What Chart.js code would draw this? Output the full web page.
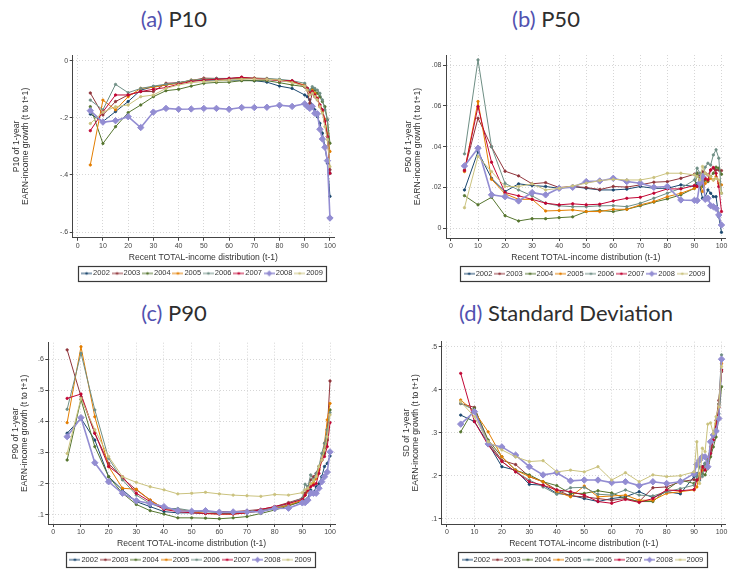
<!DOCTYPE html>
<html><head><meta charset="utf-8">
<script src="https://cdn.jsdelivr.net/npm/chart.js@4.4.1/dist/chart.umd.min.js"></script>
<style>
html,body{margin:0;padding:0;background:#fff;overflow:hidden;}
body{width:730px;height:572px;position:relative;}
canvas{position:absolute;}
.ttl{position:absolute;font-family:Lato,'Open Sans',sans-serif;font-weight:400;font-size:22px;line-height:22px;color:#2e2e2e;text-align:center;white-space:nowrap;}
.ttl .lab{color:#5252b0;}
</style></head><body>
<div class="ttl" style="left:74px;top:8px;width:200px"><span class="lab">(a)</span> P10</div>
<div class="ttl" style="left:446px;top:8px;width:200px"><span class="lab">(b)</span> P50</div>
<div class="ttl" style="left:74px;top:302px;width:200px"><span class="lab">(c)</span> P90</div>
<div class="ttl" style="left:416px;top:302px;width:300px"><span class="lab">(d)</span> Standard Deviation</div>
<canvas id="cA" width="365" height="250" style="left:0px;top:40px"></canvas>
<canvas id="cB" width="365" height="250" style="left:365px;top:40px"></canvas>
<canvas id="cC" width="365" height="246" style="left:0px;top:330px"></canvas>
<canvas id="cD" width="365" height="246" style="left:365px;top:330px"></canvas>
<script>
const years = ['2002','2003','2004','2005','2006','2007','2008','2009'];
const xPct = [5,10,15,20,25,30,35,40,45,50,55,60,65,70,75,80,85,90,91,92,93,94,95,96,97,98,99,100];
const xTicks = [0,10,20,30,40,50,60,70,80,90,100];

const p10_2002 = [-0.187,-0.213,-0.178,-0.143,-0.103,-0.091,-0.085,-0.077,-0.07,-0.068,-0.068,-0.068,-0.068,-0.07,-0.075,-0.089,-0.097,-0.12,-0.126,-0.137,-0.155,-0.172,-0.196,-0.219,-0.254,-0.3,-0.359,-0.475];
const p10_2003 = [-0.113,-0.19,-0.143,-0.12,-0.108,-0.108,-0.079,-0.077,-0.07,-0.061,-0.062,-0.063,-0.058,-0.063,-0.065,-0.07,-0.073,-0.091,-0.103,-0.149,-0.114,-0.126,-0.137,-0.155,-0.172,-0.207,-0.266,-0.382];
const p10_2004 = [-0.161,-0.29,-0.231,-0.182,-0.155,-0.126,-0.105,-0.1,-0.089,-0.079,-0.076,-0.075,-0.07,-0.07,-0.07,-0.077,-0.085,-0.091,-0.097,-0.108,-0.097,-0.103,-0.114,-0.126,-0.143,-0.161,-0.207,-0.289];
const p10_2005 = [-0.365,-0.138,-0.172,-0.126,-0.097,-0.093,-0.085,-0.079,-0.068,-0.065,-0.065,-0.063,-0.062,-0.061,-0.063,-0.068,-0.073,-0.085,-0.097,-0.114,-0.103,-0.114,-0.132,-0.161,-0.178,-0.207,-0.254,-0.318];
const p10_2006 = [-0.138,-0.172,-0.083,-0.112,-0.097,-0.089,-0.082,-0.077,-0.068,-0.065,-0.062,-0.062,-0.06,-0.061,-0.062,-0.065,-0.07,-0.079,-0.097,-0.103,-0.091,-0.097,-0.103,-0.114,-0.137,-0.172,-0.207,-0.394];
const p10_2007 = [-0.245,-0.179,-0.12,-0.12,-0.108,-0.1,-0.094,-0.082,-0.073,-0.068,-0.065,-0.062,-0.058,-0.062,-0.065,-0.07,-0.07,-0.089,-0.097,-0.114,-0.108,-0.12,-0.132,-0.155,-0.172,-0.213,-0.266,-0.394];
const p10_2008 = [-0.175,-0.215,-0.21,-0.196,-0.234,-0.18,-0.167,-0.17,-0.169,-0.167,-0.167,-0.17,-0.164,-0.164,-0.163,-0.156,-0.16,-0.151,-0.16,-0.167,-0.16,-0.184,-0.186,-0.24,-0.274,-0.303,-0.35,-0.551];
const p10_2009 = [-0.22,-0.18,-0.161,-0.155,-0.126,-0.12,-0.097,-0.085,-0.077,-0.073,-0.071,-0.068,-0.065,-0.064,-0.065,-0.068,-0.077,-0.089,-0.103,-0.12,-0.114,-0.126,-0.137,-0.161,-0.184,-0.231,-0.277,-0.371];

const p50_2002 = [0.0188,0.0376,0.0245,0.018,0.0218,0.021,0.0205,0.0196,0.0205,0.0196,0.0188,0.0188,0.0192,0.0205,0.0196,0.0196,0.0213,0.0205,0.022,0.0205,0.0147,0.0155,0.0188,0.0172,0.0155,0.0155,0.0057,-0.002];
const p50_2003 = [0.0286,0.054,0.04,0.028,0.0257,0.0218,0.0224,0.02,0.0205,0.02,0.019,0.0205,0.0202,0.0213,0.0226,0.0229,0.0245,0.0265,0.027,0.0254,0.0278,0.027,0.0262,0.0286,0.0295,0.0286,0.0286,0.0283];
const p50_2004 = [0.016,0.0115,0.0152,0.0062,0.0036,0.0047,0.0047,0.0052,0.0056,0.0082,0.0087,0.0082,0.0093,0.011,0.0128,0.0144,0.0164,0.0196,0.027,0.0237,0.0205,0.0237,0.0229,0.0254,0.027,0.03,0.0295,0.0265];
const p50_2005 = [0.0278,0.0622,0.024,0.0169,0.0142,0.0142,0.0085,0.0087,0.009,0.0082,0.0082,0.0093,0.0093,0.0115,0.0131,0.0155,0.0172,0.0196,0.0205,0.022,0.018,0.022,0.0237,0.0245,0.0237,0.0254,0.022,0.0213];
const p50_2006 = [0.0365,0.0826,0.04,0.022,0.0188,0.0159,0.0123,0.011,0.0106,0.0106,0.011,0.0111,0.0106,0.0123,0.0147,0.0172,0.0196,0.0237,0.0295,0.027,0.0237,0.03,0.0319,0.031,0.036,0.0385,0.0344,0.0172];
const p50_2007 = [0.0283,0.0597,0.0324,0.0175,0.0159,0.0142,0.0123,0.0115,0.012,0.0115,0.0118,0.0134,0.0147,0.0152,0.0172,0.0193,0.0193,0.021,0.0205,0.0237,0.022,0.0245,0.0237,0.0286,0.0298,0.027,0.0205,0.0082];
const p50_2008 = [0.0306,0.0393,0.0164,0.0155,0.0134,0.0175,0.0164,0.0196,0.0201,0.0229,0.0232,0.0245,0.0229,0.0221,0.0201,0.0205,0.0139,0.0137,0.0136,0.0221,0.0254,0.0142,0.0147,0.0111,0.0106,0.0098,0.0065,0.0016];
const p50_2009 = [0.0101,0.0352,0.0278,0.0205,0.0205,0.0218,0.0188,0.0196,0.0208,0.0221,0.0234,0.024,0.0237,0.0237,0.0249,0.027,0.027,0.0262,0.0254,0.0237,0.0303,0.027,0.0262,0.0254,0.0237,0.0245,0.0237,0.0172];

const p90_2002 = [0.362,0.41,0.34,0.222,0.18,0.142,0.126,0.11,0.106,0.106,0.104,0.104,0.104,0.106,0.113,0.12,0.131,0.142,0.147,0.153,0.18,0.169,0.19,0.2,0.222,0.255,0.265,0.289];
const p90_2003 = [0.63,0.48,0.362,0.265,0.217,0.18,0.147,0.12,0.117,0.11,0.11,0.11,0.11,0.113,0.117,0.126,0.139,0.153,0.169,0.19,0.212,0.222,0.233,0.255,0.276,0.308,0.373,0.53];
const p90_2004 = [0.276,0.47,0.319,0.222,0.169,0.133,0.113,0.102,0.09,0.09,0.089,0.087,0.09,0.094,0.104,0.115,0.128,0.144,0.163,0.184,0.2,0.21,0.222,0.255,0.276,0.297,0.34,0.437];
const p90_2005 = [0.396,0.64,0.415,0.255,0.185,0.182,0.147,0.12,0.115,0.11,0.104,0.102,0.102,0.106,0.113,0.12,0.131,0.147,0.163,0.174,0.195,0.2,0.217,0.244,0.276,0.33,0.405,0.458];
const p90_2006 = [0.439,0.619,0.437,0.281,0.212,0.163,0.136,0.12,0.12,0.113,0.11,0.106,0.106,0.11,0.115,0.122,0.136,0.153,0.198,0.19,0.228,0.212,0.233,0.255,0.297,0.33,0.373,0.428];
const p90_2007 = [0.474,0.488,0.362,0.255,0.222,0.169,0.142,0.117,0.11,0.106,0.104,0.102,0.102,0.106,0.117,0.126,0.136,0.149,0.163,0.179,0.19,0.195,0.2,0.233,0.276,0.287,0.319,0.396];
const p90_2008 = [0.351,0.412,0.267,0.206,0.169,0.145,0.136,0.126,0.113,0.111,0.113,0.108,0.109,0.109,0.11,0.12,0.121,0.138,0.139,0.147,0.169,0.169,0.169,0.185,0.206,0.222,0.237,0.302];
const p90_2009 = [0.297,0.474,0.373,0.287,0.222,0.204,0.19,0.18,0.167,0.169,0.172,0.167,0.163,0.161,0.159,0.165,0.163,0.171,0.18,0.185,0.2,0.21,0.222,0.255,0.276,0.308,0.351,0.421];

const sd_2002 = [0.341,0.326,0.275,0.221,0.213,0.18,0.178,0.159,0.155,0.147,0.14,0.147,0.151,0.163,0.149,0.163,0.158,0.198,0.205,0.19,0.221,0.229,0.236,0.267,0.29,0.313,0.344,0.446];
const sd_2003 = [0.368,0.359,0.279,0.236,0.226,0.198,0.186,0.167,0.153,0.151,0.147,0.143,0.147,0.14,0.172,0.174,0.186,0.191,0.19,0.198,0.213,0.221,0.236,0.259,0.29,0.329,0.375,0.442];
const sd_2004 = [0.302,0.357,0.283,0.244,0.213,0.202,0.186,0.177,0.159,0.159,0.165,0.16,0.147,0.14,0.14,0.167,0.19,0.182,0.19,0.198,0.205,0.202,0.217,0.244,0.267,0.29,0.336,0.407];
const sd_2005 = [0.376,0.349,0.302,0.244,0.213,0.198,0.186,0.163,0.151,0.176,0.151,0.153,0.155,0.143,0.143,0.159,0.163,0.167,0.174,0.205,0.213,0.221,0.236,0.267,0.298,0.321,0.367,0.461];
const sd_2006 = [0.368,0.353,0.275,0.233,0.209,0.19,0.174,0.157,0.172,0.173,0.157,0.155,0.167,0.155,0.153,0.163,0.17,0.178,0.198,0.221,0.198,0.229,0.236,0.252,0.283,0.313,0.367,0.481];
const sd_2007 = [0.438,0.326,0.271,0.233,0.209,0.186,0.178,0.167,0.163,0.155,0.14,0.136,0.145,0.138,0.147,0.167,0.165,0.168,0.19,0.194,0.221,0.213,0.229,0.252,0.283,0.313,0.359,0.446];
const sd_2008 = [0.32,0.349,0.274,0.267,0.248,0.221,0.202,0.207,0.188,0.19,0.19,0.184,0.186,0.177,0.186,0.182,0.186,0.205,0.226,0.236,0.244,0.244,0.221,0.279,0.295,0.304,0.333,0.471];
const sd_2009 = [0.372,0.337,0.279,0.26,0.244,0.233,0.235,0.209,0.213,0.209,0.221,0.19,0.207,0.186,0.202,0.198,0.2,0.209,0.279,0.182,0.264,0.256,0.32,0.323,0.298,0.337,0.36,0.454];

const yTicksA = [-0.6,-0.4,-0.2,0];
const yTicksB = [0,0.02,0.04,0.06,0.08];
const yTicksC = [0.1,0.2,0.3,0.4,0.5,0.6];
const yTicksD = [0.1,0.2,0.3,0.4,0.5];

const colors = ['#1a476f','#90353b','#55752f','#e37e00','#6e8e84','#c10534','#938dd2','#cac27e'];
const FONT = "'Liberation Sans', Arial, Helvetica, sans-serif";
const YT2 = 'EARN-income growth (t to t+1)';

function fmt(v){
  if (Math.abs(v) < 1e-9) return '0';
  const s = (+v.toFixed(3)).toString();
  return s.replace(/^(-?)0\./, '$1.');
}

function makeSample(color, big){
  const c = document.createElement('canvas');
  c.width = 11; c.height = 8;
  const g = c.getContext('2d');
  g.strokeStyle = color; g.lineWidth = big ? 1.5 : 1;
  g.beginPath(); g.moveTo(0, 4); g.lineTo(11, 4); g.stroke();
  g.fillStyle = color; g.beginPath();
  if (big) { g.moveTo(5.5, 1); g.lineTo(8.5, 4); g.lineTo(5.5, 7); g.lineTo(2.5, 4); g.closePath(); }
  else { g.arc(5.5, 4, 1.3, 0, Math.PI * 2); }
  g.fill();
  return c;
}
const samples = colors.map((c, i) => makeSample(c, i === 6));

const legendBorder = {
  id: 'legendBorder',
  afterDraw(chart){
    const lg = chart.legend;
    if (!lg || !lg.legendHitBoxes || !lg.legendHitBoxes.length) return;
    const hb = lg.legendHitBoxes;
    const f = hb[0], l = hb[hb.length - 1];
    const x1 = Math.round(f.left - 6), x2 = Math.round(l.left + l.width + 3.5);
    const cy = f.top + f.height / 2;
    const ctx = chart.ctx;
    ctx.save();
    ctx.strokeStyle = '#3a3a3a'; ctx.lineWidth = 1.2;
    ctx.strokeRect(x1 + 0.5, Math.round(cy - 7.5) + 0.5, x2 - x1, 15);
    ctx.restore();
  }
};

function makeChart(id, p){
  const gridOpts = { color: '#d6d6d6', lineWidth: 1, tickLength: 3, tickColor: '#444', tickWidth: 1, tickBorderDash: [] };
  const borderOpts = { display: true, color: '#444', width: 1, dash: [1, 2] };
  return new Chart(document.getElementById(id), {
    type: 'line',
    data: { datasets: years.map((yr, i) => ({
      label: yr,
      data: xPct.map((x, j) => ({ x: x, y: p.series[i][j] })),
      borderColor: colors[i], backgroundColor: colors[i],
      borderWidth: i === 6 ? 1.6 : 1,
      pointRadius: i === 6 ? 3.2 : 1.2,
      pointHoverRadius: 0,
      pointStyle: i === 6 ? 'rectRot' : 'circle',
      pointBorderWidth: i === 6 ? 1 : 0.8,
      tension: 0,
      order: 8 - i
    })) },
    options: {
      responsive: false, animation: false, devicePixelRatio: 1, events: [],
      layout: { padding: { left: p.pl, right: p.pr, top: p.pt, bottom: p.pb } },
      plugins: {
        tooltip: { enabled: false },
        legend: {
          position: 'bottom', fullSize: false,
          labels: {
            usePointStyle: true, pointStyleWidth: 5.5, boxHeight: 7.5, padding: 4.5,
            color: '#333', font: { family: FONT, size: 7.5 },
            generateLabels(chart){
              return chart.data.datasets.map((d, i) => ({
                text: d.label, pointStyle: samples[i], fillStyle: colors[i], strokeStyle: colors[i],
                lineWidth: 0, hidden: false, datasetIndex: i, fontColor: '#333'
              }));
            }
          }
        }
      },
      scales: {
        x: {
          type: 'linear', min: p.xmin, max: p.xmax,
          afterBuildTicks(s){ s.ticks = xTicks.map(v => ({ value: v })); },
          afterFit(s){ s.height = 27.4; },
          ticks: { font: { family: FONT, size: 7 }, color: '#444', padding: 1, maxRotation: 0, autoSkip: false, callback: v => String(v) },
          grid: gridOpts, border: borderOpts,
          title: { display: true, text: 'Recent TOTAL-income distribution (t-1)', font: { family: FONT, size: 8.6, lineHeight: 1 }, color: '#333', padding: { top: 0, bottom: 3.6 } }
        },
        y: {
          type: 'linear', min: p.ymin, max: p.ymax,
          afterBuildTicks(s){ s.ticks = p.yTicks.map(v => ({ value: v })); },
          afterFit(s){ s.width = p.yw; },
          ticks: { font: { family: FONT, size: 7 }, color: '#444', padding: 1.5, autoSkip: false, callback: v => fmt(v) },
          grid: gridOpts, border: borderOpts,
          title: { display: true, text: [p.ytitle, YT2], font: { family: FONT, size: 8.6, lineHeight: 1.05 }, color: '#333', padding: { top: 0, bottom: 0 } }
        }
      }
    },
    plugins: [legendBorder]
  });
}

makeChart('cA', { series: [p10_2002,p10_2003,p10_2004,p10_2005,p10_2006,p10_2007,p10_2008,p10_2009],
  ymin: -0.62, ymax: 0.02, yTicks: yTicksA, xmin: -1.98, xmax: 101.6, ytitle: 'P10 of 1-year',
  pl: 11.7, yw: 61, pr: 31, pt: 15, pb: 2.85 });
makeChart('cB', { series: [p50_2002,p50_2003,p50_2004,p50_2005,p50_2006,p50_2007,p50_2008,p50_2009],
  ymin: -0.0048, ymax: 0.085, yTicks: yTicksB, xmin: -1.83, xmax: 101.6, ytitle: 'P50 of 1-year',
  pl: 38.7, yw: 42.3, pr: 2, pt: 15, pb: 2.55 });
makeChart('cC', { series: [p90_2002,p90_2003,p90_2004,p90_2005,p90_2006,p90_2007,p90_2008,p90_2009],
  ymin: 0.07, ymax: 0.653, yTicks: yTicksC, xmin: -1.81, xmax: 101.8, ytitle: 'P90 of 1-year',
  pl: 10.7, yw: 37.6, pr: 30, pt: 12.7, pb: 2.55 });
makeChart('cD', { series: [sd_2002,sd_2003,sd_2004,sd_2005,sd_2006,sd_2007,sd_2008,sd_2009],
  ymin: 0.0877, ymax: 0.5116, yTicks: yTicksD, xmin: -1.92, xmax: 101.55, ytitle: 'SD of 1-year',
  pl: 37.4, yw: 39.3, pr: 2, pt: 11.7, pb: 2.55 });
</script>
</body></html>
